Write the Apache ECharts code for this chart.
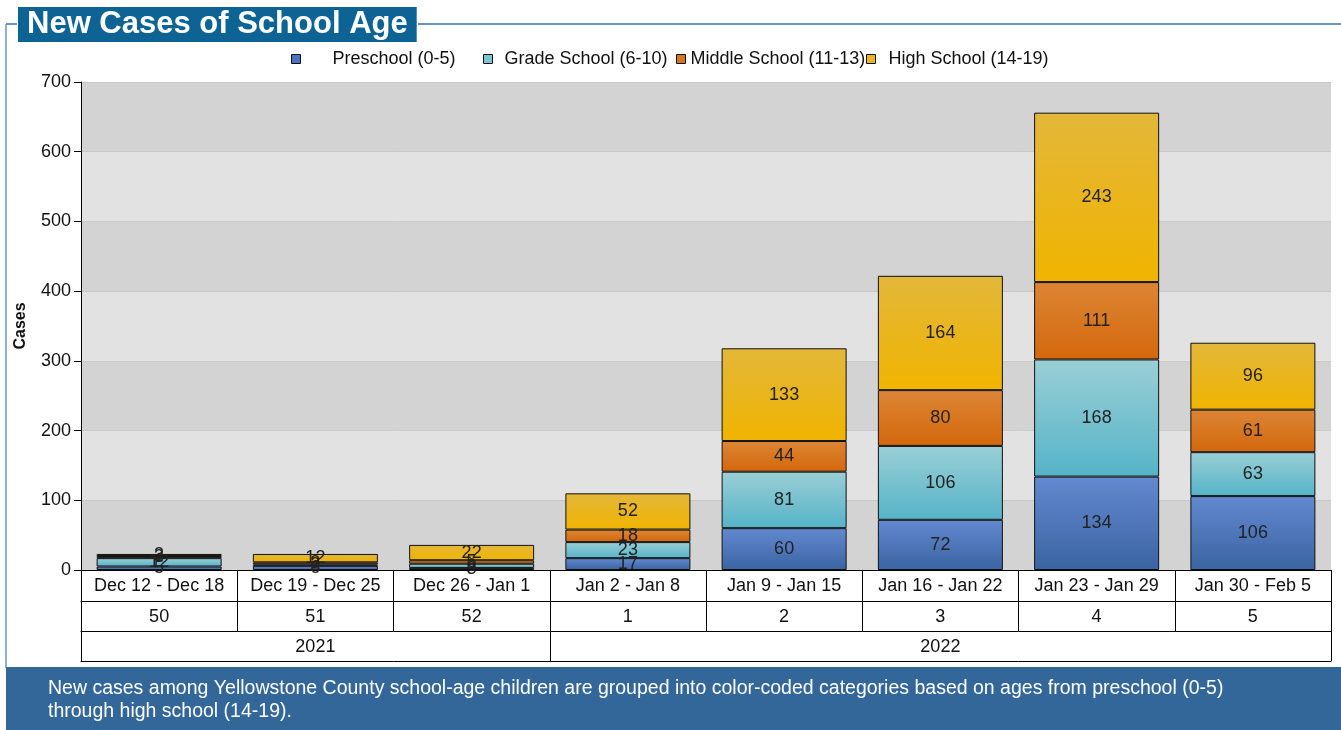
<!DOCTYPE html>
<html>
<head>
<meta charset="utf-8">
<script src="https://cdn.jsdelivr.net/npm/echarts@6/dist/echarts.min.js"></script>
<style>
  html, body { margin: 0; padding: 0; background: #fff; }
  #chart { width: 1341px; height: 730px; }
</style>
</head>
<body>
<div id="chart"></div>
<script>
// week ranges, week numbers and year labels for the x table
const weeks = ['Dec 12 - Dec 18', 'Dec 19 - Dec 25', 'Dec 26 - Jan 1', 'Jan 2 - Jan 8',
  'Jan 9 - Jan 15', 'Jan 16 - Jan 22', 'Jan 23 - Jan 29', 'Jan 30 - Feb 5'];
const weekNums = ['50', '51', '52', '1', '2', '3', '4', '5'];
const years = ['', '2021', '', '', '', '2022', '', ''];
const yearBreaks = [0, 3, 8]; // category index where each year starts

const preschool = [5, 6, 3, 17, 60, 72, 134, 106];
const gradeSchool = [12, 2, 6, 23, 81, 106, 168, 63];
const middleSchool = [3, 3, 5, 18, 44, 80, 111, 61];
const highSchool = [3, 12, 22, 52, 133, 164, 243, 96];

const font = 'Liberation Sans, Arial, sans-serif';

const grad = (top, bottom) => new echarts.graphic.LinearGradient(0, 0, 0, 1, [
  { offset: 0, color: top },
  { offset: 1, color: bottom }
]);

const mkSeries = (name, data, top, bottom) => ({
  name: name,
  type: 'bar',
  stack: 'cases',
  barWidth: '80%',
  data: data,
  itemStyle: { color: grad(top, bottom), borderColor: '#111', borderWidth: 1 },
  label: {
    show: true,
    position: 'inside',
    color: '#222',
    fontFamily: font,
    fontSize: 18
  },
  emphasis: { disabled: true }
});

// one legend per item so the uneven spacing of the original can be kept
const mkLegend = (name, iconX, textPad, color) => ({
  top: 50,
  left: iconX,
  padding: 0,
  itemWidth: 9,
  itemHeight: 9,
  icon: 'rect',
  textStyle: { color: '#111', fontFamily: font, fontSize: 18, padding: [0, 0, 0, textPad] },
  data: [{ name: name, itemStyle: { color: color, borderColor: '#111', borderWidth: 1 } }]
});

const chart = echarts.init(document.getElementById('chart'));

const tableAxis = (data, offset, tickLen, showTick) => ({
  type: 'category',
  data: data,
  position: 'bottom',
  offset: offset,
  boundaryGap: true,
  axisLine: { show: true, lineStyle: { color: '#000', width: 1 } },
  axisTick: {
    show: true,
    inside: false,
    length: tickLen,
    interval: showTick,
    lineStyle: { color: '#000', width: 1 }
  },
  axisLabel: {
    show: true,
    interval: 0,
    color: '#111',
    fontFamily: font,
    fontSize: 18,
    margin: 7
  },
  splitLine: { show: false }
});

chart.setOption({
  animation: false,
  backgroundColor: '#fff',
  title: {
    text: 'New Cases of School Age',
    left: 18,
    top: 7,
    padding: [2, 9, 2, 9],
    backgroundColor: '#0d6494',
    textStyle: { color: '#fff', fontFamily: font, fontWeight: 'bold', fontSize: 31 }
  },
  legend: [
    mkLegend('Preschool (0-5)', 291, 27, '#4a74bf'),
    mkLegend('Grade School (6-10)', 483, 7, '#7cc4d0'),
    mkLegend('Middle School (11-13)', 676, 0, '#d8761e'),
    mkLegend('High School (14-19)', 866, 8, '#ebb618')
  ],
  grid: { left: 81, right: 10, top: 82, bottom: 160, containLabel: false },
  xAxis: [
    tableAxis(weeks, 0, 31, 0),
    tableAxis(weekNums, 31, 30, 0),
    tableAxis(years, 61, 30, (i) => yearBreaks.includes(i)),
    {
      type: 'category',
      data: weeks,
      position: 'bottom',
      offset: 91,
      axisLine: { show: true, lineStyle: { color: '#000', width: 1 } },
      axisTick: { show: false },
      axisLabel: { show: false }
    }
  ],
  yAxis: {
    type: 'value',
    min: 0,
    max: 700,
    interval: 100,
    name: 'Cases',
    nameLocation: 'middle',
    nameGap: 52,
    nameTextStyle: { color: '#111', fontFamily: font, fontWeight: 'bold', fontSize: 16 },
    axisLine: { show: true, lineStyle: { color: '#000', width: 1 } },
    axisTick: { show: true, length: 7, lineStyle: { color: '#000' } },
    axisLabel: { color: '#111', fontFamily: font, fontSize: 18, margin: 10 },
    splitLine: { show: true, lineStyle: { color: '#c8c8c8', width: 1 } },
    splitArea: { show: true, areaStyle: { color: ['#d3d3d3', '#e2e2e2'] } }
  },
  graphic: [
    // frame lines around the chart
    { type: 'line', shape: { x1: 6, y1: 24, x2: 17, y2: 24 }, style: { stroke: '#3a6eaa', lineWidth: 1.5 }, silent: true },
    { type: 'line', shape: { x1: 6, y1: 24, x2: 6, y2: 668 }, style: { stroke: '#6a93c6', lineWidth: 1.5 }, silent: true },
    { type: 'line', shape: { x1: 418, y1: 24, x2: 1341, y2: 24 }, style: { stroke: '#3a6eaa', lineWidth: 1.5 }, silent: true },
    // footer band
    { type: 'rect', shape: { x: 6, y: 667, width: 1335, height: 63 }, style: { fill: '#336699' }, silent: true },
    {
      type: 'text',
      left: 48,
      top: 677,
      style: {
        text: 'New cases among Yellowstone County school-age children are grouped into color-coded categories based on ages from preschool (0-5)\nthrough high school (14-19).',
        fill: '#fff',
        font: '19.5px ' + font,
        lineHeight: 23
      },
      silent: true
    }
  ],
  series: [
    mkSeries('Preschool (0-5)', preschool, '#6389d0', '#3a64a2'),
    mkSeries('Grade School (6-10)', gradeSchool, '#9acfd6', '#55b3c8'),
    mkSeries('Middle School (11-13)', middleSchool, '#dc8535', '#d4680c'),
    mkSeries('High School (14-19)', highSchool, '#e3b73a', '#f0b400')
  ]
});

window.addEventListener('resize', () => chart.resize());
</script>
</body>
</html>
